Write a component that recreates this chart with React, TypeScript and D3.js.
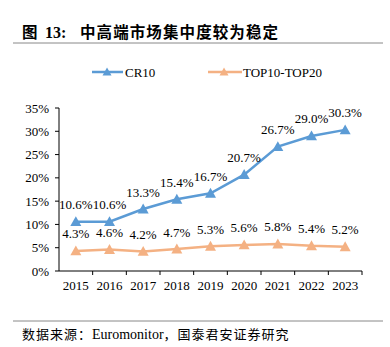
import React from "react";
import * as d3 from "d3";

const years = ["2015", "2016", "2017", "2018", "2019", "2020", "2021", "2022", "2023"];
const cr10 = [10.6, 10.6, 13.3, 15.4, 16.7, 20.7, 26.7, 29.0, 30.3];
const top1020 = [4.3, 4.6, 4.2, 4.7, 5.3, 5.6, 5.8, 5.4, 5.2];
const yTicks = [0, 5, 10, 15, 20, 25, 30, 35];

const W = 390, H = 347;
const left = 59, right = 362, top = 108, bottom = 271;
const blue = "#5B9BD5", orange = "#F4B183";
const serif = "'Liberation Serif', 'Times New Roman', serif";
const cjk = "'Noto Sans CJK SC', sans-serif";

function tri(x: number, y: number, s = 5.5) {
  return `M${x},${y - s} L${x + s},${y + s * 0.8} L${x - s},${y + s * 0.8} Z`;
}

export default function App() {
  const x = d3.scaleBand().domain(years).range([left, right]);
  const y = d3.scaleLinear().domain([0, 35]).range([bottom, top]);
  const line = d3.line<number>().x((_, i) => x(years[i])! + x.bandwidth() / 2).y(d => y(d));
  const series = [
    { name: "CR10", data: cr10, color: blue },
    { name: "TOP10-TOP20", data: top1020, color: orange },
  ];
  return (
    <svg width={W} height={H} style={{ position: "absolute", left: 0, top: 0, background: "#fff" }}>
      <text x={22} y={37.5} fontSize={15.5} fontWeight="bold" fontFamily={cjk} fill="#000">图</text>
      <text x={45} y={37.5} fontSize={16} fontWeight="bold" fontFamily={serif} fill="#000">13:</text>
      <text x={80} y={37.5} fontSize={15.5} fontWeight="bold" fontFamily={cjk} fill="#000" textLength={198} lengthAdjust="spacing">中高端市场集中度较为稳定</text>
      <line x1={13} x2={383} y1={43} y2={43} stroke="#888" strokeWidth={1} />
      {/* legend */}
      <line x1={92} x2={123} y1={72} y2={72} stroke={blue} strokeWidth={2.5} />
      <path d={tri(107, 72, 4.5)} fill={blue} />
      <text x={125} y={76.5} fontSize={13} fontFamily={serif}>CR10</text>
      <line x1={208} x2={242} y1={72} y2={72} stroke={orange} strokeWidth={2.5} />
      <path d={tri(224, 72, 4.5)} fill={orange} />
      <text x={243} y={76.5} fontSize={13} fontFamily={serif}>TOP10-TOP20</text>
      {/* axes */}
      <line x1={left} x2={left} y1={top} y2={bottom} stroke="#000" />
      {yTicks.map(t => (
        <g key={t}>
          <line x1={left - 4} x2={left} y1={y(t)} y2={y(t)} stroke="#000" />
          <text x={49} y={y(t) + 4.5} textAnchor="end" fontSize={13} fontFamily={serif}>{t}%</text>
        </g>
      ))}
      <line x1={left} x2={right} y1={bottom} y2={bottom} stroke="#000" />
      {years.map((yr, i) => (
        <g key={yr}>
          <line x1={x(yr)! + x.bandwidth()} x2={x(yr)! + x.bandwidth()} y1={bottom} y2={bottom + 4} stroke="#000" />
          <text x={x(yr)! + x.bandwidth() / 2} y={290} textAnchor="middle" fontSize={13} fontFamily={serif}>{yr}</text>
        </g>
      ))}
      {series.map(s => (
        <g key={s.name}>
          <path d={line(s.data)!} fill="none" stroke={s.color} strokeWidth={2.5} />
          {s.data.map((v, i) => {
            const cx = x(years[i])! + x.bandwidth() / 2;
            return (
              <g key={i}>
                <path d={tri(cx, y(v))} fill={s.color} />
                <text x={cx} y={y(v) - 12.5} textAnchor="middle" fontSize={13} fontFamily={serif}>{v.toFixed(1)}%</text>
              </g>
            );
          })}
        </g>
      ))}
      <line x1={13} x2={383} y1={321} y2={321} stroke="#888" strokeWidth={1} />
      <text x={22} y={338.5} fill="#000">
        <tspan fontSize={13} fontFamily={cjk} letterSpacing={1}>数据来源：</tspan>
        <tspan fontSize={14} fontFamily={serif}>Euromonitor</tspan>
        <tspan fontSize={13} fontFamily={cjk} letterSpacing={1}>，国泰君安证券研究</tspan>
      </text>
    </svg>
  );
}
